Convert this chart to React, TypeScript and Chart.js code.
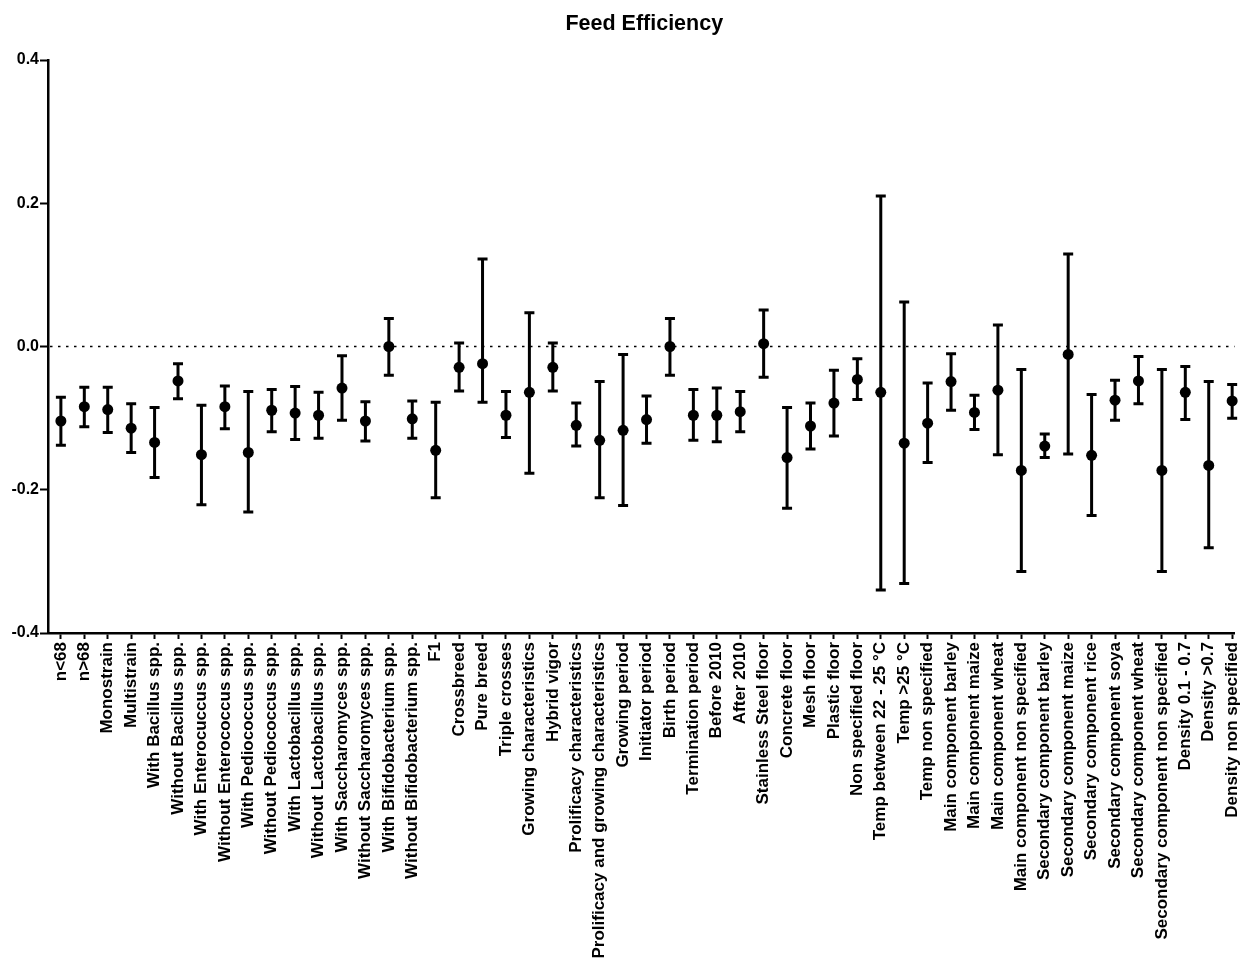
import React, { useEffect, useRef } from "react";
import { Chart, registerables } from "chart.js";

Chart.register(...registerables);

const TITLE = "Feed Efficiency";

const LABELS = [
  "n<68",
  "n>68",
  "Monostrain",
  "Multistrain",
  "With Bacillus spp.",
  "Without Bacillus spp.",
  "With Enterocuccus spp.",
  "Without Enterococcus spp.",
  "With Pediococcus spp.",
  "Without Pediococcus spp.",
  "With Lactobacillus spp.",
  "Without Lactobacillus spp.",
  "With Saccharomyces spp.",
  "Without Saccharomyces spp.",
  "With Bifidobacterium spp.",
  "Without Bifidobacterium spp.",
  "F1",
  "Crossbreed",
  "Pure breed",
  "Triple crosses",
  "Growing characteristics",
  "Hybrid vigor",
  "Prolificacy characteristics",
  "Prolificacy and growing characteristics",
  "Growing period",
  "Initiator period",
  "Birth period",
  "Termination period",
  "Before 2010",
  "After 2010",
  "Stainless Steel floor",
  "Concrete floor",
  "Mesh floor",
  "Plastic floor",
  "Non specified floor",
  "Temp between 22 - 25 °C",
  "Temp >25 °C",
  "Temp non specified",
  "Main component barley",
  "Main component maize",
  "Main component wheat",
  "Main component non specified",
  "Secondary component barley",
  "Secondary component maize",
  "Secondary component rice",
  "Secondary component soya",
  "Secondary component wheat",
  "Secondary component non specified",
  "Density 0.1 - 0.7",
  "Density >0.7",
  "Density non specified",
];

const MEANS = [
  -0.104, -0.084, -0.088, -0.114, -0.134, -0.048, -0.151, -0.084, -0.148, -0.089,
  -0.093, -0.096, -0.058, -0.104, 0.0, -0.101, -0.145, -0.029, -0.024, -0.096,
  -0.064, -0.029, -0.11, -0.131, -0.117, -0.102, 0.0, -0.096, -0.096, -0.091,
  0.004, -0.155, -0.111, -0.079, -0.046, -0.064, -0.135, -0.107, -0.049, -0.092,
  -0.061, -0.173, -0.139, -0.011, -0.152, -0.075, -0.048, -0.173, -0.064, -0.166,
  -0.076,
];

const UPPER = [
  -0.071, -0.057, -0.057, -0.08, -0.085, -0.024, -0.082, -0.055, -0.063, -0.06,
  -0.056, -0.064, -0.013, -0.077, 0.039, -0.076, -0.078, 0.005, 0.122, -0.063,
  0.047, 0.005, -0.079, -0.049, -0.011, -0.069, 0.039, -0.06, -0.058, -0.063,
  0.051, -0.085, -0.079, -0.033, -0.017, 0.21, 0.062, -0.051, -0.01, -0.068,
  0.03, -0.032, -0.122, 0.129, -0.067, -0.047, -0.014, -0.032, -0.028, -0.049,
  -0.053,
];

const LOWER = [
  -0.138, -0.112, -0.12, -0.148, -0.183, -0.073, -0.221, -0.115, -0.231, -0.119,
  -0.13, -0.128, -0.103, -0.132, -0.04, -0.128, -0.211, -0.062, -0.078, -0.127,
  -0.177, -0.062, -0.139, -0.211, -0.222, -0.135, -0.04, -0.131, -0.133, -0.119,
  -0.043, -0.226, -0.143, -0.125, -0.074, -0.34, -0.331, -0.162, -0.089, -0.116,
  -0.151, -0.314, -0.155, -0.15, -0.236, -0.103, -0.08, -0.314, -0.102, -0.281,
  -0.1,
];

const Y_MIN = -0.4;
const Y_MAX = 0.4;
const Y_STEP = 0.2;

const FONT_FAMILY = "'Liberation Sans', Arial, sans-serif";

const errorBarPlugin = {
  id: "errorBars",
  beforeDatasetsDraw(chart: any) {
    const { ctx, chartArea, scales } = chart;
    const xs = scales.x;
    const ys = scales.y;
    ctx.save();
    // dotted zero line
    const y0 = ys.getPixelForValue(0);
    ctx.strokeStyle = "#000";
    ctx.lineWidth = 1.6;
    ctx.setLineDash([2.5, 5.5]);
    ctx.beginPath();
    ctx.moveTo(chartArea.left + 2, y0);
    ctx.lineTo(chartArea.right, y0);
    ctx.stroke();
    ctx.setLineDash([]);
    // error bars
    ctx.lineWidth = 3;
    ctx.lineCap = "butt";
    const cap = 5;
    for (let i = 0; i < MEANS.length; i++) {
      const x = xs.getPixelForValue(i);
      const yt = ys.getPixelForValue(UPPER[i]);
      const yb = ys.getPixelForValue(LOWER[i]);
      ctx.beginPath();
      ctx.moveTo(x, yt);
      ctx.lineTo(x, yb);
      ctx.moveTo(x - cap, yt);
      ctx.lineTo(x + cap, yt);
      ctx.moveTo(x - cap, yb);
      ctx.lineTo(x + cap, yb);
      ctx.stroke();
    }
    ctx.restore();
  },
  afterDraw(chart: any) {
    const { ctx, chartArea } = chart;
    ctx.save();
    ctx.fillStyle = "#000";
    ctx.font = `bold 21.5px ${FONT_FAMILY}`;
    ctx.textAlign = "center";
    ctx.textBaseline = "middle";
    ctx.fillText(TITLE, (chartArea.left + chartArea.right) / 2 + 3, 24);
    ctx.restore();
  },
};

export default function App() {
  const canvasRef = useRef<HTMLCanvasElement | null>(null);

  useEffect(() => {
    if (!canvasRef.current) return;
    const chart = new Chart(canvasRef.current, {
      type: "scatter",
      data: {
        datasets: [
          {
            label: TITLE,
            data: MEANS.map((m, i) => ({ x: i, y: m })),
            backgroundColor: "#000",
            borderColor: "#000",
            borderWidth: 0,
            pointRadius: 5.5,
            pointHoverRadius: 5.5,
            clip: false,
          },
        ],
      },
      options: {
        animation: false,
        responsive: false,
        events: [],
        layout: { padding: { top: 60, left: 0, right: 0, bottom: 0 } },
        plugins: {
          legend: { display: false },
          title: { display: false },
          tooltip: { enabled: false },
        },
        scales: {
          x: {
            type: "linear",
            min: -0.55,
            max: 50.1,
            afterBuildTicks: (scale: any) => {
              scale.ticks = LABELS.map((_, i) => ({ value: i }));
            },
            afterFit: (scale: any) => {
              scale.height = 325;
              scale.paddingLeft = 0;
              scale.paddingRight = 0;
            },
            grid: {
              drawOnChartArea: false,
              drawTicks: true,
              tickLength: 6,
              tickWidth: 2,
              tickColor: "#000",
            },
            border: { display: true, color: "#000", width: 2.5 },
            ticks: {
              autoSkip: false,
              minRotation: 90,
              maxRotation: 90,
              padding: 3,
              color: "#000",
              font: { family: FONT_FAMILY, size: 17, weight: "bold" },
              callback: (v: any) => LABELS[Math.round(Number(v))] ?? "",
            },
          },
          y: {
            type: "linear",
            min: Y_MIN,
            max: Y_MAX,
            afterFit: (scale: any) => {
              scale.width = 48;
              scale.paddingTop = 0;
              scale.paddingBottom = 0;
            },
            grid: {
              drawOnChartArea: false,
              drawTicks: true,
              tickLength: 8,
              tickWidth: 2,
              tickColor: "#000",
            },
            border: { display: true, color: "#000", width: 2.5 },
            ticks: {
              stepSize: Y_STEP,
              padding: 1,
              color: "#000",
              font: { family: FONT_FAMILY, size: 16, weight: "bold" },
              callback: (v: any) => Number(v).toFixed(1),
            },
          },
        },
      },
      plugins: [errorBarPlugin],
    } as any);
    return () => chart.destroy();
  }, []);

  return (
    <div style={{ position: "absolute", left: 0, top: 0, width: 1240, height: 958, background: "#fff" }}>
      <canvas ref={canvasRef} width={1240} height={958} style={{ display: "block" }} />
    </div>
  );
}
